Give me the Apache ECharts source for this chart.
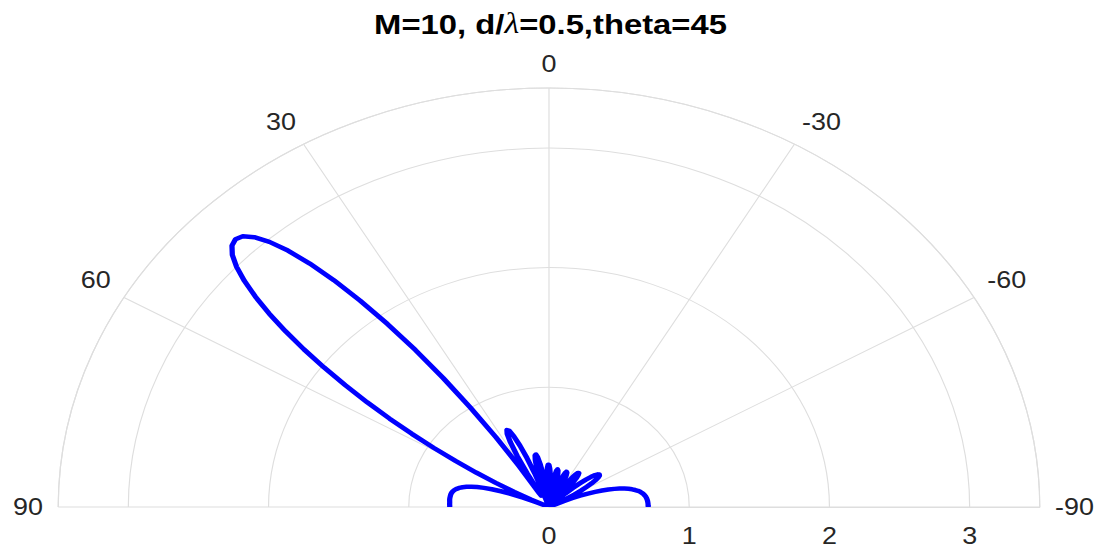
<!DOCTYPE html>
<html>
<head>
<meta charset="utf-8">
<script src="https://cdn.jsdelivr.net/npm/echarts@6/dist/echarts.min.js"></script>
<style>
  html, body { margin: 0; padding: 0; background: #fff; overflow: hidden; width: 1101px; height: 548px; }
  #wrap { width: 1101px; height: 548px; overflow: hidden; position: relative; }
  #chart { width: 940px; height: 548px; transform: scaleX(1.1713); transform-origin: 0 0; position: absolute; left: 0; top: 0; }
</style>
</head>
<body>
<div id="wrap"><div id="chart"></div></div>
<script>
// ---- data ----
const titleMain = 'M=10, d/';
const titleGreek = 'λ';
const titleRest = '=0.5,theta=45';

// angle (degrees) of each sample
const thetaDeg = [
  -90,-89,-88,-87,-86,-85,-84,-83,-82,-81,
  -80,-79,-78,-77,-76,-75,-74,-73,-72,-71,
  -70,-69,-68,-67,-66,-65,-64,-63,-62,-61,
  -60,-59,-58,-57,-56,-55,-54,-53,-52,-51,
  -50,-49,-48,-47,-46,-45,-44,-43,-42,-41,
  -40,-39,-38,-37,-36,-35,-34,-33,-32,-31,
  -30,-29,-28,-27,-26,-25,-24,-23,-22,-21,
  -20,-19,-18,-17,-16,-15,-14,-13,-12,-11,
  -10,-9,-8,-7,-6,-5,-4,-3,-2,-1,
  0,1,2,3,4,5,6,7,8,9,
  10,11,12,13,14,15,16,17,18,19,
  20,21,22,23,24,25,26,27,28,29,
  30,31,32,33,34,35,36,37,38,39,
  40,41,42,43,44,45,46,47,48,49,
  50,51,52,53,54,55,56,57,58,59,
  60,61,62,63,64,65,66,67,68,69,
  70,71,72,73,74,75,76,77,78,79,
  80,81,82,83,84,85,86,87,88,89,
  90
];

// pattern magnitude at each angle
const patternR = [
  0.708,0.707,0.707,0.706,0.705,0.703,0.700,0.696,0.690,0.683,
  0.674,0.663,0.649,0.631,0.611,0.587,0.559,0.526,0.490,0.448,
  0.403,0.353,0.299,0.241,0.180,0.116,0.050,0.016,0.082,0.147,
  0.208,0.266,0.318,0.363,0.400,0.428,0.445,0.450,0.443,0.423,
  0.392,0.349,0.295,0.233,0.163,0.088,0.011,0.066,0.139,0.205,
  0.263,0.308,0.339,0.354,0.352,0.334,0.299,0.249,0.187,0.115,
  0.037,0.042,0.118,0.187,0.245,0.289,0.314,0.320,0.306,0.272,
  0.221,0.156,0.079,0.003,0.085,0.162,0.228,0.279,0.310,0.320,
  0.307,0.272,0.217,0.144,0.060,0.030,0.120,0.202,0.272,0.323,
  0.351,0.353,0.329,0.280,0.208,0.118,0.016,0.091,0.196,0.291,
  0.368,0.422,0.448,0.442,0.405,0.336,0.239,0.120,0.016,0.160,
  0.304,0.438,0.553,0.642,0.696,0.710,0.681,0.605,0.483,0.317,
  0.110,0.132,0.404,0.697,1.002,1.313,1.620,1.915,2.188,2.438,
  2.654,2.838,2.980,3.082,3.143,3.162,3.143,3.088,2.998,2.878,
  2.733,2.568,2.384,2.188,1.983,1.774,1.564,1.355,1.153,0.957,
  0.770,0.594,0.430,0.278,0.139,0.013,0.100,0.201,0.289,0.367,
  0.434,0.491,0.539,0.579,0.612,0.638,0.659,0.675,0.688,0.697,
  0.703,0.707,0.709,0.710,0.711,0.711,0.710,0.709,0.709,0.708,
  0.708
];

const radiusMin = 0;
const radiusMax = 3.5;
const radiusStep = 1;
const thetaMin = -90;
const thetaMax = 90;
const thetaStep = 30;

// ---- chart ----
const chart = echarts.init(document.getElementById('chart'), null, { renderer: 'svg' });
const gridColor = '#dedede';
const textColor = '#262626';
const font = 'Liberation Sans, Arial, Helvetica, sans-serif';

const seriesData = thetaDeg.map((t, i) => [patternR[i], t]);

chart.setOption({
  animation: false,
  backgroundColor: '#ffffff',
  title: {
    left: 'center',
    top: 4,
    text: '{a|' + titleMain + '}{g|' + titleGreek + '}{a|' + titleRest + '}',
    textStyle: {
      rich: {
        a: { fontFamily: font, fontWeight: 'bold', fontSize: 28, color: '#000000' },
        g: { fontFamily: 'Liberation Serif, DejaVu Serif, serif', fontStyle: 'italic', fontWeight: 'normal', fontSize: 29, color: '#000000' }
      }
    }
  },
  polar: {
    center: [468.7, 507],
    radius: 419
  },
  angleAxis: {
    type: 'value',
    min: thetaMin,
    max: thetaMax,
    interval: thetaStep,
    startAngle: 0,
    endAngle: 180,
    clockwise: false,
    axisLine: { show: true, lineStyle: { color: gridColor, width: 1 } },
    axisTick: { show: false },
    axisLabel: { show: true, margin: 13, fontSize: 23, color: textColor, fontFamily: font },
    splitLine: { show: true, lineStyle: { color: gridColor, width: 1 } }
  },
  radiusAxis: {
    type: 'value',
    min: radiusMin,
    max: radiusMax,
    interval: radiusStep,
    axisLine: { show: true, lineStyle: { color: gridColor, width: 1 } },
    axisTick: { show: false },
    axisLabel: {
      show: true, showMaxLabel: false, margin: -17, verticalAlign: 'top', align: 'center',
      fontSize: 23, color: textColor, fontFamily: font
    },
    splitLine: { show: true, lineStyle: { color: gridColor, width: 1 } }
  },
  series: [{
    type: 'line',
    coordinateSystem: 'polar',
    data: seriesData,
    showSymbol: false,
    symbol: 'none',
    smooth: false,
    lineStyle: { color: '#0000ff', width: 4.5, join: 'round', cap: 'round' },
    clip: false
  }]
});
</script>
</body>
</html>
